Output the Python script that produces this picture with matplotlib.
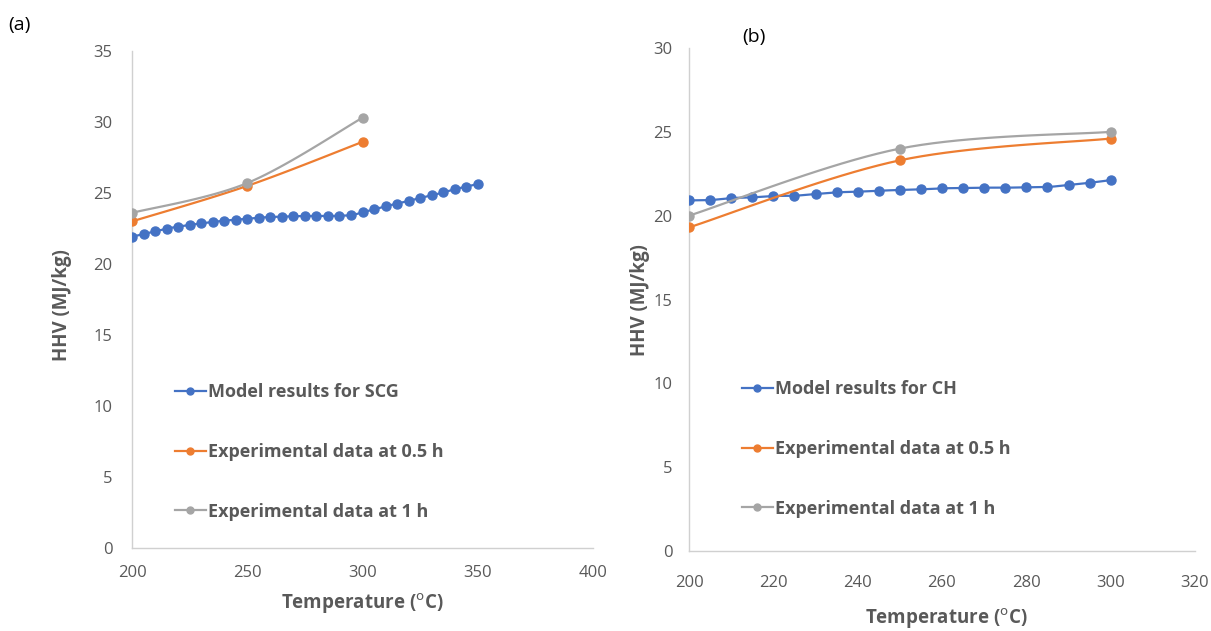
import numpy as np
import matplotlib
matplotlib.use("Agg")
import matplotlib.pyplot as plt
from matplotlib.lines import Line2D

plt.rcParams['font.family'] = ['Open Sans', 'DejaVu Sans']

# ---------------- data ----------------
temp_a_model = list(range(200, 351, 5))
hhv_a_model = [21.92, 22.11, 22.30, 22.49, 22.63, 22.75, 22.86, 22.96, 23.05, 23.12,
               23.19, 23.26, 23.31, 23.33, 23.36, 23.38, 23.38, 23.38, 23.40, 23.43,
               23.64, 23.85, 24.06, 24.25, 24.44, 24.65, 24.83, 25.04, 25.26, 25.45, 25.63]
temp_exp = [200, 250, 300]
hhv_a_05h = [23.0, 25.5, 28.6]
hhv_a_1h = [23.6, 25.7, 30.3]

temp_b_model = list(range(200, 301, 5))
hhv_b_model = [20.91, 20.93, 21.05, 21.09, 21.17, 21.19, 21.29, 21.39, 21.43, 21.49,
               21.53, 21.57, 21.63, 21.65, 21.67, 21.67, 21.69, 21.71, 21.83, 21.96, 22.12]
hhv_b_05h = [19.3, 23.3, 24.6]
hhv_b_1h = [20.0, 24.0, 25.0]

labels_a = ["Model results for SCG", "Experimental data at 0.5 h", "Experimental data at 1 h"]
labels_b = ["Model results for CH", "Experimental data at 0.5 h", "Experimental data at 1 h"]

C_BLUE, C_ORANGE, C_GRAY = "#4472C4", "#ED7D31", "#A5A5A5"
TXT = "#595959"
AX = "#D0D0D0"
NS = 20


def smooth(x, y, n=NS):
    """Excel-like smoothed line (cardinal / Catmull-Rom Bezier)."""
    x = np.asarray(x, float); y = np.asarray(y, float)
    P = np.column_stack([x, y])
    m = len(P)
    out = []
    t = np.linspace(0, 1, n, endpoint=False)
    for i in range(m - 1):
        p0 = P[i - 1] if i > 0 else P[i]
        p1 = P[i]; p2 = P[i + 1]
        p3 = P[i + 2] if i + 2 < m else P[i + 1]
        c1 = p1 + (p2 - p0) / 6.0
        c2 = p2 - (p3 - p1) / 6.0
        for tt in t:
            b = ((1 - tt) ** 3) * p1 + 3 * ((1 - tt) ** 2) * tt * c1 + 3 * (1 - tt) * tt ** 2 * c2 + tt ** 3 * p2
            out.append(b)
    out.append(P[-1])
    out = np.array(out)
    return out[:, 0], out[:, 1]


def draw(ax, x, y, color):
    sx, sy = smooth(x, y)
    ax.plot(sx, sy, color=color, lw=1.6, marker='o', ms=6.5,
            markevery=slice(0, None, NS), solid_capstyle='round', zorder=3)


fig = plt.figure(figsize=(12.11, 6.31), dpi=100)
W, H = 1211, 631


def mk_axes(x0, x1, ytop, ybot):
    return fig.add_axes([x0 / W, 1 - ybot / H, (x1 - x0) / W, (ybot - ytop) / H])


ax1 = mk_axes(132, 593, 51, 548)
ax2 = mk_axes(689, 1195, 48, 551)

for ax in (ax1, ax2):
    for s in ("top", "right"):
        ax.spines[s].set_visible(False)
    for s in ("left", "bottom"):
        ax.spines[s].set_color(AX)
        ax.spines[s].set_linewidth(1.0)
    ax.tick_params(length=0, colors=TXT, labelsize=12)

ax1.tick_params(axis='y', pad=14)
ax1.tick_params(axis='x', pad=12)
ax2.tick_params(axis='y', pad=12)
ax2.tick_params(axis='x', pad=17)

XLAB = "Temperature ($^{\\mathrm{o}}$C)"

# panel (a)
draw(ax1, temp_a_model, hhv_a_model, C_BLUE)
draw(ax1, temp_exp, hhv_a_05h, C_ORANGE)
draw(ax1, temp_exp, hhv_a_1h, C_GRAY)
ax1.set_xlim(200, 400)
ax1.set_ylim(0, 35)
ax1.set_xticks(range(200, 401, 50))
ax1.set_yticks(range(0, 36, 5))
ax1.set_xlabel(XLAB, fontsize=13.5, fontweight='bold', color=TXT, va='center')
ax1.set_ylabel("HHV (MJ/kg)", fontsize=13.5, fontweight='bold', color=TXT, va='center')
ax1.xaxis.set_label_coords(362 / W, 1 - 604 / H, transform=fig.transFigure)
ax1.yaxis.set_label_coords(62 / W, 1 - 305 / H, transform=fig.transFigure)

# panel (b)
draw(ax2, temp_b_model, hhv_b_model, C_BLUE)
draw(ax2, temp_exp, hhv_b_05h, C_ORANGE)
draw(ax2, temp_exp, hhv_b_1h, C_GRAY)
ax2.set_xlim(200, 320)
ax2.set_ylim(0, 30)
ax2.set_xticks(range(200, 321, 20))
ax2.set_yticks(range(0, 31, 5))
ax2.set_xlabel(XLAB, fontsize=13.5, fontweight='bold', color=TXT, va='center')
ax2.set_ylabel("HHV (MJ/kg)", fontsize=13.5, fontweight='bold', color=TXT, va='center')
ax2.xaxis.set_label_coords(946 / W, 1 - 619 / H, transform=fig.transFigure)
ax2.yaxis.set_label_coords(640 / W, 1 - 300 / H, transform=fig.transFigure)


def legend(ax, labels, x, y):
    handles = [Line2D([], [], color=c, lw=1.6, marker='o', ms=5)
               for c in (C_BLUE, C_ORANGE, C_GRAY)]
    lg = ax.legend(handles, labels, loc='center left', bbox_to_anchor=(x / W, 1 - y / H),
                   bbox_transform=fig.transFigure, frameon=False, handlelength=1.7,
                   handletextpad=0.15, labelspacing=2.3, borderpad=0, borderaxespad=0,
                   prop={'weight': 'bold', 'size': 13})
    for t in lg.get_texts():
        t.set_color(TXT)


legend(ax1, labels_a, 175, 452)
legend(ax2, labels_b, 742, 449)

fig.text(8 / W, 1 - 25 / H, "(a)", fontsize=14, color="black", va='center', ha='left')
fig.text(742 / W, 1 - 37 / H, "(b)", fontsize=14, color="black", va='center', ha='left')

fig.savefig("out.png", dpi=100, facecolor='white')
